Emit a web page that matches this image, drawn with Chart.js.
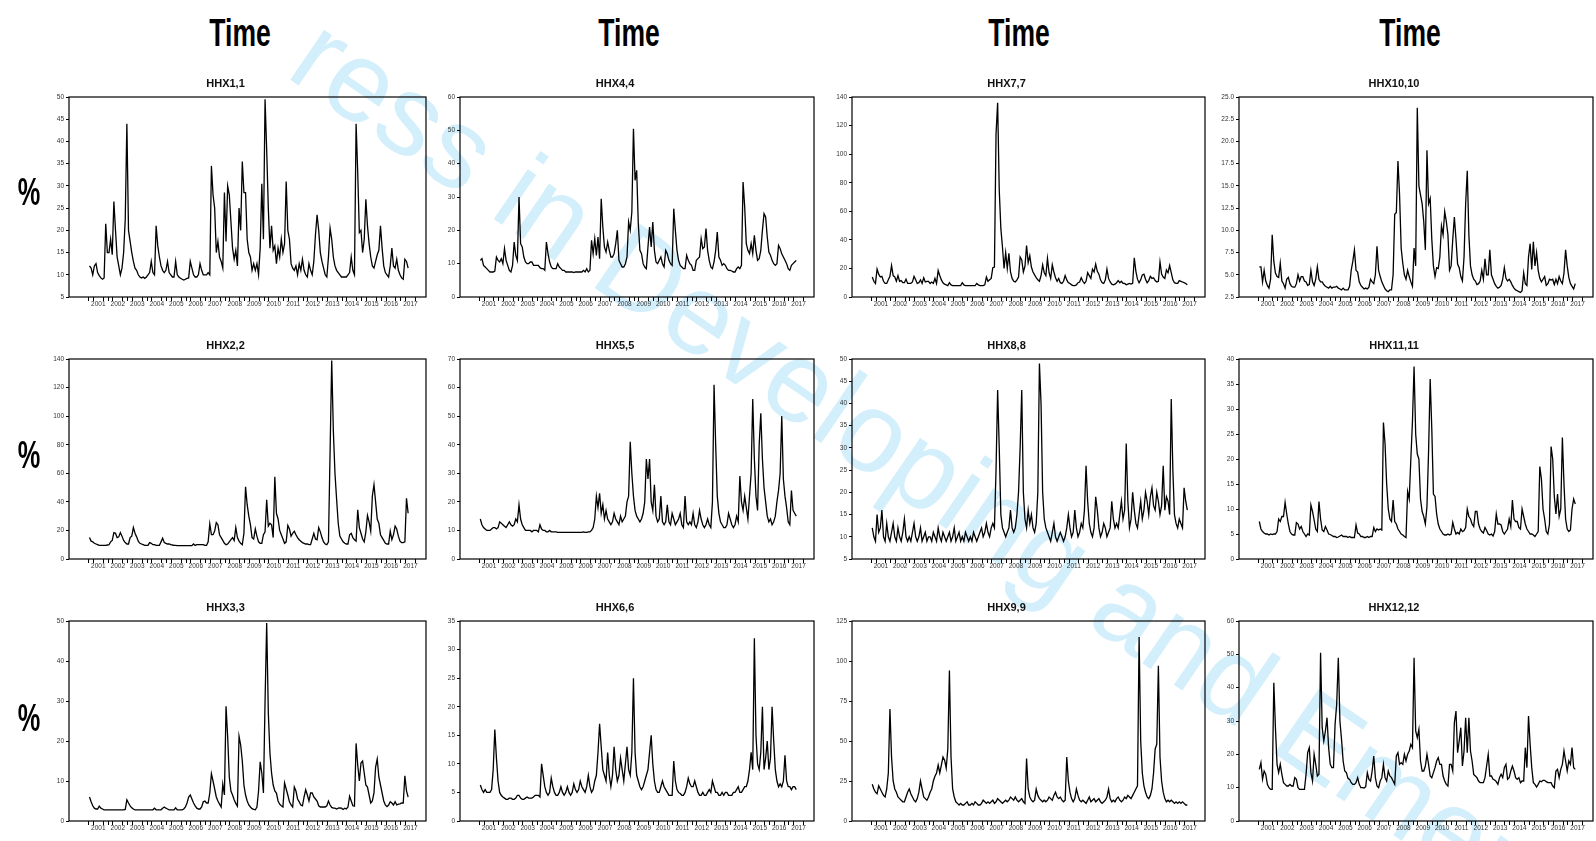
<!DOCTYPE html>
<html>
<head>
<meta charset="utf-8">
<script src="https://cdn.jsdelivr.net/npm/chart.js@4.4.1/dist/chart.umd.min.js"></script>
<style>
  body { margin: 0; background: #fff; }
  #wrap { position: relative; width: 1596px; height: 841px; overflow: hidden; background: #fff; }
  #wrap canvas { position: absolute; z-index: 1; }
  .mark { position: absolute; left: 338px; top: -4px; transform-origin: 0 0; transform: rotate(34.4deg);
          font: 114px 'Liberation Sans', Arial, sans-serif; line-height: 1; color: #d3effc; white-space: nowrap; z-index: 0; }
  .big { position: absolute; font: bold 39px 'Liberation Sans', Arial, sans-serif; line-height: 1; color: #000;
         white-space: nowrap; z-index: 2; }
</style>
</head>
<body>
<div id="wrap">
  <div class="mark">ress in Developing and Emerging</div>
</div>
<script>
/*------------------------------------------------------------------------------------------------*/
//datos: monthly values, Jan 2001 .. May 2017 (one row per year)
const yearLabels = ['2001','2002','2003','2004','2005','2006','2007','2008','2009','2010','2011','2012','2013','2014','2015','2016','2017'];

const hhx1 = [
  12, 11.5, 10, 12, 12.5, 10.5, 9.8, 9.3, 9, 9.3, 21.5, 15,
  15, 18, 14.5, 26.5, 20, 14, 12, 10, 11.5, 15, 22.5, 44,
  20, 17.5, 15, 13, 11.5, 11, 10, 9.5, 9.3, 9.5, 9.2, 9.5,
  10, 10.5, 13, 10.5, 10, 21, 16.5, 14, 12, 11, 10.5, 11,
  13, 10.5, 10, 9.5, 9.5, 13, 10, 9.5, 9.2, 9, 8.8, 9,
  9.2, 9.3, 13, 11.5, 10, 9.5, 9.5, 10, 12.5, 11, 10, 10,
  10, 10.5, 10, 34.5, 28, 25, 15, 17.5, 14, 13, 11.5, 28.5,
  17.5, 30, 28, 22, 16, 13.5, 15.5, 12, 25, 20, 35.5, 28.5,
  28.5, 18, 15, 14, 11, 12.5, 11, 12.5, 10, 16, 30.5, 18,
  49.5, 38, 25, 16, 21, 15.5, 16.5, 12.5, 16, 14, 18, 15,
  17, 31, 20, 18, 12.5, 11.5, 11, 12, 10, 12.5, 11, 13.5,
  11, 10, 9.5, 12.5, 11, 10, 13, 19, 23.5, 20, 15, 13,
  11.5, 10, 9.5, 14, 20.5, 18, 14, 12, 11, 10.5, 10, 9.5,
  9.5, 9.5, 9.5, 10, 10.5, 14, 11, 10, 44, 33, 19.5, 20,
  15, 18, 27, 21, 17, 14, 12, 11.5, 13, 14.5, 15.5, 21,
  16, 12, 10.5, 10, 9.5, 12, 16, 12, 11.5, 13.5, 11, 10,
  9.3, 9, 13.5, 13, 11.5
];
const hhx2 = [
  15, 12.5, 12, 11, 10.5, 10, 9.5, 9.5, 9.5, 9.5, 9.5, 9.8,
  10, 12, 13, 18.5, 18, 15, 15.5, 18.5, 16, 13, 11.5, 10.5,
  10.5, 15, 16, 22, 18, 15.5, 12.5, 11, 10.5, 10, 9.5, 9.5,
  9.5, 11.5, 11, 10, 10, 9.5, 9.5, 9.5, 12, 14.5, 11.5, 11,
  10.5, 10.5, 10, 9.8, 9.5, 9.5, 9.3, 9.3, 9.3, 9.3, 9.3, 9.3,
  9.3, 9.3, 9.3, 9.3, 10.5, 9.5, 10, 10, 10, 10, 10, 9.5,
  9.5, 12, 24.5, 17, 17, 19.5, 25.5, 24, 17, 15, 13, 11,
  10, 10.5, 12, 13.5, 15, 13, 22, 15, 12.5, 11, 10, 18,
  50.5, 38, 30, 24, 15, 14, 21, 16, 12, 11, 11, 17,
  19, 41.5, 23, 25, 24, 15, 57.5, 32, 28, 20, 17, 14,
  11, 12, 23.5, 21, 16, 18, 19.5, 17, 15, 13.5, 12.5, 11.5,
  11, 10.5, 10.5, 10, 10, 14, 18, 14, 13.5, 22, 19, 15,
  12, 10.5, 10, 12, 75, 139, 90, 60, 42, 25, 16, 14,
  12, 11, 10.5, 10.5, 17, 18, 15, 13.5, 12.5, 34.5, 22, 18,
  14, 12, 19, 30.5, 26, 19.5, 44, 52, 40, 28, 25, 17,
  15, 13, 11, 10.5, 10.5, 19.5, 13.5, 17, 23, 21, 16, 12.5,
  11.5, 11.5, 12, 42.5, 32
];
const hhx3 = [
  6, 4.8, 3.8, 3.2, 3, 3, 3.7, 3.2, 3, 2.8, 2.8, 2.8,
  2.8, 2.8, 2.8, 2.8, 2.8, 2.8, 2.8, 2.8, 2.8, 2.8, 2.9, 5.3,
  4.5, 3.8, 3.3, 3, 2.8, 2.8, 2.8, 2.8, 2.8, 2.8, 2.8, 2.8,
  2.8, 2.8, 2.8, 2.8, 3.2, 2.8, 2.8, 2.8, 2.8, 3.2, 3.5, 3.2,
  3, 2.8, 2.8, 2.8, 2.8, 3.3, 2.8, 2.8, 2.8, 2.8, 3, 3.5,
  4.5, 6, 6.5, 5.5, 4.5, 3.8, 3.2, 3, 3, 3.5, 4.8, 5,
  4.5, 4.5, 7, 11.8, 10, 8, 6, 5, 4.2, 3.5, 9.2, 6.5,
  28.7, 21, 11, 7.5, 6.5, 5.3, 4.4, 3.7, 21.2, 19, 15, 9,
  6.5, 5, 4, 3.5, 3.1, 2.9, 2.8, 3.5, 7.5, 14.8, 12, 7,
  30, 49.5, 27, 17, 12, 9, 7.5, 7, 5, 4.2, 3.8, 3.5,
  9.5, 8, 6.5, 4.8, 4, 3.5, 8.5, 7.5, 5.5, 4.8, 4, 3.8,
  6, 7.8, 6.5, 5, 7, 7, 6, 5.5, 5, 3.8, 3.5, 3.5,
  3.5, 3.5, 3.8, 5, 4, 3.4, 3.2, 3.2, 3, 3.2, 3.3, 3.2,
  2.9, 3.2, 3, 3.5, 6.2, 5, 3.8, 3.7, 19.4, 14, 10, 14.5,
  15, 12, 9, 8.5, 6.5, 4.5, 5, 7, 13.5, 15.5, 11, 9,
  7, 5, 4, 3.6, 4, 4.8, 4.5, 4, 4.8, 4, 4.2, 4.3,
  4.5, 4.5, 11.3, 7.5, 6
];
const hhx4 = [
  11, 11.5, 9.5, 9, 8.5, 8, 7.5, 7.5, 7.5, 7.8, 12, 11,
  10.5, 11.5, 10, 14.5, 11, 9.5, 8, 7.5, 9.5, 16.5, 12.5, 11,
  30, 16, 15, 12, 10.5, 10, 10, 10.5, 10.5, 9.5, 9.5, 9.5,
  9.5, 8.8, 8.5, 8.5, 8, 16.5, 13, 10.5, 9, 8.5, 8.5, 8.5,
  10, 9, 8.5, 8, 8, 7.5, 7.5, 7.5, 7.5, 7.5, 7.3, 7.5,
  7.5, 7.5, 7.5, 7.5, 8, 7.5, 8.5, 7.5, 8, 17, 13, 17.5,
  12.5, 18, 11.5, 29.5, 21, 15, 13.5, 16.5, 14, 12, 12, 13,
  16, 20, 11, 10, 9, 9, 10, 12, 22.5, 20, 25.5, 50.5,
  35, 38, 22, 14, 13, 10, 9, 8.5, 15, 21, 15, 22.5,
  14, 10.5, 10, 11, 12, 10, 9, 14, 13, 11, 10, 9.5,
  26.5, 20, 14, 11, 9.5, 9, 8.5, 8.5, 12.5, 11, 10, 9.5,
  8, 8, 11, 11.5, 12, 17.5, 14.5, 15, 20.5, 14, 11, 9,
  8.5, 10.5, 14, 19.5, 12, 11, 9.5, 10, 9.5, 8.5, 8, 8,
  7.8, 7.5, 7.5, 8.5, 9, 8.5, 9.5, 34.5, 27, 16, 14, 13,
  16, 13, 18.5, 14, 11, 11.5, 14, 20, 25, 24, 18, 13.5,
  12.5, 11, 10, 9.5, 10, 15.5, 14.5, 13, 12, 11, 10, 8.5,
  8, 9.5, 10, 10.5, 11
];
const hhx5 = [
  14, 12, 11, 10.5, 10, 10, 10, 10.5, 11, 11, 10.5, 11,
  13, 12.5, 12, 11.5, 11, 12, 13, 12, 11.5, 12, 14, 13,
  19, 14, 12, 11, 10, 10, 10, 10, 9.5, 10, 10, 10,
  9.5, 12, 10.5, 10, 10, 9.5, 9.5, 10, 9.5, 9.5, 9.5, 9.5,
  9.3, 9.3, 9.3, 9.3, 9.3, 9.3, 9.3, 9.3, 9.3, 9.3, 9.3, 9.3,
  9.3, 9.3, 9.3, 9.3, 9.5, 9.3, 9.3, 9.5, 9.5, 10, 11, 14,
  22, 18, 23, 16, 19, 14, 17, 14, 13, 12, 13, 16,
  14, 13, 12, 15, 13, 14, 15, 20, 22, 41, 30, 22,
  17, 15, 14, 13, 14, 16, 20, 35, 28, 35, 20, 17,
  26, 15, 13, 14, 22, 13, 12, 13, 19, 13, 12, 16,
  14, 12, 13, 14, 16, 12, 11, 22, 13, 12, 13, 12,
  16, 12, 11, 13, 17, 14, 12, 11, 12, 14, 12, 11,
  20, 61, 40, 22, 16, 13, 12, 11, 11, 12, 16, 14,
  12, 11, 12, 15, 13, 29, 20, 17, 22, 18, 14, 22,
  30, 56, 35, 22, 17, 40, 51, 35, 25, 20, 15, 13,
  14, 12, 13, 15, 20, 24, 30, 50, 28, 22, 18, 13,
  12, 24, 17, 16, 15
];
const hhx6 = [
  6.3, 5.5, 5, 5.5, 5, 5, 5, 5.5, 9, 16, 11, 7,
  5, 4.5, 4.2, 4, 3.8, 3.8, 4, 4, 3.8, 3.8, 4, 4.5,
  4.5, 4, 3.8, 3.8, 4, 4.2, 4, 4, 4, 4.2, 4.5, 4.5,
  4.5, 4.2, 10, 8, 6, 5, 4.5, 5, 7.5, 6, 5, 4.5,
  4.5, 5, 6, 5, 4.5, 5, 6, 5, 4.5, 5, 6.5, 5.5,
  5, 5.5, 7, 6, 5.5, 5, 6, 8, 6, 5, 5.5, 7,
  8, 12, 17, 13, 9, 8, 7, 12, 8, 6, 8, 13,
  9, 7, 8, 11, 9, 7, 10, 13, 9, 8, 12, 25,
  12, 8, 7, 6, 5.5, 6, 7, 8, 9, 12, 15, 10,
  7, 5.5, 5, 5, 6, 7, 6, 5.5, 5, 4.5, 4.5, 4.5,
  10.5, 7, 5.5, 5, 4.8, 4.5, 4.5, 5, 6, 7.5, 6.5, 6,
  6, 7, 6, 5, 4.5, 4.5, 5, 4.5, 4.5, 5, 5.5, 5,
  7, 6, 5, 5, 4.5, 4.5, 5, 4.5, 5, 5, 4.5, 4.5,
  4.5, 5, 5, 5.5, 6, 5, 5, 5.5, 6, 6, 7, 9,
  12, 9, 32, 15, 10, 9, 12, 20, 9, 11, 14, 9,
  11, 20, 14, 9, 7, 6, 6.5, 6, 7, 11.5, 7, 6,
  6, 5.5, 6, 6, 5.5
];
const hhx7 = [
  14, 11, 9.5, 19.5, 16, 14, 14.5, 11, 9.5, 9.5, 12, 14.5,
  22, 15, 14, 11, 15, 11, 11.5, 10, 10, 12.5, 9.5, 9.5,
  9.5, 10.5, 14.5, 12, 9.5, 10, 12, 9.5, 13.5, 10.5, 11, 11,
  9.5, 10.5, 9.5, 13, 9.5, 18.5, 15, 12, 10, 9, 8.5, 8,
  10, 8.5, 8, 8, 8, 8, 8, 8, 10, 8.5, 8, 8,
  8, 8, 8, 8, 8, 9.5, 8.5, 8, 8, 8, 8.5, 14,
  11, 12, 13, 20.5, 21, 114, 136, 75, 48, 35, 20, 31,
  20, 30.5, 17.5, 13, 11, 10.5, 12, 14, 28, 26, 17.5, 21.5,
  36, 24, 29, 21, 17.5, 15.5, 13.5, 12, 11, 15, 22.5, 17,
  15, 27, 17, 13, 22.5, 17.5, 13.5, 11, 13, 10, 9.5, 11,
  15, 12, 10, 9.5, 8.5, 8, 8, 8.5, 10, 10.5, 13.5, 11,
  9.5, 11, 17, 15, 13, 19.5, 17.5, 23, 18, 16, 12, 10,
  9.5, 12, 19.5, 13, 10.5, 9, 8.5, 9, 10, 11.5, 10, 11,
  9.5, 9.5, 8.5, 9, 9.5, 9, 9.5, 27.5, 18, 12.5, 10, 12,
  15.5, 16, 12.5, 10, 11.5, 14.5, 13, 13.5, 11.5, 10.5, 11, 24.5,
  16, 14, 13, 19, 17, 22, 17, 12, 10, 9.5, 9.5, 11.5,
  11, 10.5, 10, 9.5, 8.5
];
const hhx8 = [
  12, 10, 9, 15, 11, 12, 16, 10, 9, 13, 10, 9,
  11, 13, 10, 9, 12, 10, 9, 11, 14, 10, 9, 10,
  9, 11, 13, 10, 9, 10, 12, 9, 10, 11, 9, 10,
  10, 9, 11, 10, 9, 12, 10, 9, 11, 10, 9, 10,
  11, 9, 10, 12, 9, 10, 11, 9, 10, 9, 11, 10,
  9, 10, 9, 11, 10, 9, 10, 11, 12, 10, 11, 13,
  11, 10, 12, 13, 12, 25, 43, 30, 15, 12, 11, 10,
  11, 12, 16, 12, 11, 12, 15, 20, 30, 43, 20, 14,
  12, 16, 13, 15, 12, 11, 13, 20, 49, 40, 20, 14,
  12, 11, 10, 9, 11, 13, 10, 9, 10, 11, 10, 9,
  10, 12, 15, 12, 10, 11, 16, 12, 10, 11, 13, 12,
  16, 26, 18, 13, 11, 10, 12, 19, 16, 12, 10, 11,
  13, 12, 10, 11, 12, 18, 14, 12, 13, 12, 15, 18,
  14, 16, 31, 18, 12, 14, 20, 16, 13, 12, 15, 18,
  14, 16, 20, 18, 15, 19, 21, 17, 16, 20, 18, 15,
  17, 26, 16, 19, 18, 15, 41, 25, 15, 13, 12, 14,
  13, 12, 21, 18, 16
];
const hhx9 = [
  23, 20, 18, 17, 22, 20, 18, 16, 15, 20, 30, 70,
  40, 25, 20, 18, 15, 14, 13, 12, 12, 15, 18, 20,
  17, 15, 13, 12, 14, 18, 25, 20, 15, 14, 13, 15,
  18, 20, 25, 28, 30, 35, 30, 35, 40, 38, 33, 45,
  94, 40, 20, 15, 12, 11, 10, 11, 10, 10, 11, 12,
  10, 10, 11, 10, 12, 11, 10, 10, 11, 13, 12, 11,
  12, 11, 12, 13, 11, 12, 14, 13, 12, 11, 12, 13,
  12, 13, 15, 14, 13, 15, 13, 12, 13, 14, 12, 11,
  39, 20, 15, 13, 12, 13, 20, 16, 14, 13, 12, 13,
  12, 13, 15, 14, 13, 16, 18, 15, 14, 15, 13, 12,
  13, 40, 25, 18, 14, 12, 14, 20, 16, 13, 12, 13,
  12, 11, 13, 15, 12, 13, 14, 12, 13, 14, 12, 11,
  12, 13, 15, 20, 14, 12, 13, 12, 14, 15, 13, 12,
  13, 15, 14, 16, 15, 14, 16, 18, 20, 22, 115, 50,
  30, 22, 18, 15, 14, 16, 20, 30, 45, 48, 97, 40,
  25, 18, 14, 12, 13, 12, 13, 12, 11, 12, 11, 12,
  11, 12, 11, 10, 10
];
const hhx10 = [
  5.9, 5.9, 4.2, 5.5, 4.3, 3.8, 3.5, 4.5, 9.5, 6.5, 5.2, 4.8,
  4.7, 6.3, 4.3, 4, 3.5, 4.5, 4.7, 4, 3.7, 3.6, 3.6, 4,
  5, 4.3, 4.8, 4.8, 4.3, 4.2, 3.8, 3.9, 5.5, 4.2, 3.8, 4.5,
  5.9, 4.5, 4.2, 4.2, 3.9, 3.7, 3.6, 3.5, 3.7, 3.5, 3.6, 3.6,
  3.7, 3.5, 3.4, 3.3, 3.5, 3.3, 3.3, 3.3, 3.7, 5.5, 6.5, 7.8,
  5.5, 5.3, 4.2, 3.8, 3.6, 3.4, 3.5, 3.4, 3.6, 4.5, 4.2, 4,
  5, 8.2, 5.5, 4.8, 4.2, 3.8, 3.4, 3.2, 3.1, 3.3, 3.3, 5,
  11.8, 12, 17.8, 14, 8, 6.3, 5, 4.5, 5.5, 4.8, 4.2, 3.7,
  8, 6, 23.8, 15, 14, 13, 11, 7.8, 19, 13, 13.6, 9,
  6, 4.8, 5.8, 5.7, 7, 10.5, 9.5, 12.1, 11, 9.5, 5.5, 6,
  9, 11.5, 9, 6.2, 5.8, 4.8, 4.3, 7, 13, 16.7, 9.5, 6,
  5, 4.5, 4.3, 3.9, 4, 4.3, 5.5, 4.5, 6.8, 5, 5, 7.8,
  5, 4.5, 4, 3.7, 3.5, 3.6, 3.8, 4.5, 5.8, 4.6, 4.3, 4.5,
  4.2, 3.8, 3.5, 3.3, 3.2, 3.1, 3, 3.2, 5.2, 4, 3.8, 7,
  8.5, 5.6, 8.7, 6, 7.5, 5.5, 4.6, 4.2, 4.5, 4.8, 3.8, 4,
  4.5, 4.4, 4.5, 3.9, 4.5, 4, 4.8, 4.3, 4, 5.2, 7.8, 6,
  4.7, 4, 3.7, 3.4, 4
];
const hhx11 = [
  7.5, 6, 5.5, 5.2, 5, 5, 4.8, 5, 4.9, 5, 5, 5.5,
  8, 7.5, 8.5, 8.5, 11.3, 9, 7, 5.5, 5, 4.8, 4.8, 7.3,
  7, 6, 6.5, 5.5, 5, 4.5, 5, 4.8, 10.8, 9.5, 7.8, 6,
  5.5, 11.5, 8, 5.8, 5.5, 6.5, 5.8, 5, 4.9, 4.7, 4.5, 4.5,
  4.3, 4.4, 4.6, 4.8, 4.5, 4.5, 4.5, 4.3, 4.5, 4.3, 4.3, 4.3,
  6.8, 5.2, 5, 4.5, 4.5, 4.3, 4.3, 4.5, 4.3, 4.5, 4.5, 6.3,
  5.5, 6, 5.8, 6, 5.8, 27.3, 23, 15, 10, 8, 7.5, 11.8,
  7.5, 7, 6, 5.5, 5, 4.8, 4.5, 4.3, 13.5, 12, 20, 27.5,
  38.5, 25, 21, 20, 12, 9.5, 8.5, 7, 10.5, 21.5, 36, 26,
  13, 12.5, 9, 7, 6, 5.5, 5, 4.8, 4.8, 5, 4.8, 5,
  7.3, 6, 5, 5.3, 5, 6, 5.5, 5.7, 6.3, 10, 8.5, 8,
  7, 6.5, 9.5, 9.5, 7, 6, 5.5, 5.2, 6.3, 5.7, 5, 4.8,
  5, 4.6, 5.5, 9, 7, 7, 6.8, 5.5, 5, 5.5, 6, 8,
  6.5, 11.8, 8, 7.5, 7.5, 6.3, 6, 10, 8.5, 7, 6, 5.5,
  5, 5, 4.8, 4.5, 5, 5.5, 18.5, 16, 10, 8, 5.5, 5,
  7, 22.5, 20, 12.5, 9, 13, 8.5, 10, 24.3, 15, 8, 6,
  5.5, 5.8, 10, 12, 11
];
const hhx12 = [
  15.5, 17.5, 12.5, 15, 14, 11, 10, 9.5, 9.5, 41.5, 28, 17,
  14.5, 17, 14, 11.5, 11, 10.5, 10.5, 11, 10.5, 10.5, 13, 12.5,
  10, 9.5, 9.5, 9.5, 9.5, 14, 20.5, 22, 14.5, 12, 20, 17,
  13.5, 14, 50.5, 28, 24, 27, 31, 22, 17, 16, 16, 29,
  35, 49, 30, 24.5, 18, 15, 14.5, 12.8, 12.5, 11.5, 11, 11,
  11.5, 13, 11, 10, 10, 9.9, 10.3, 14.5, 12.5, 12, 15, 19.5,
  13, 10.5, 10, 12, 13, 17, 13, 12, 15, 13.5, 13, 12,
  11, 19.5, 20.5, 17, 17.5, 17, 20, 18, 20, 21, 23, 22,
  49, 27, 25, 27.5, 18, 15, 15, 16.5, 20, 17, 13.5, 13,
  14.5, 16, 18, 19, 17, 17, 13.5, 12, 11, 10.5, 17, 17,
  15, 29.5, 33, 20.5, 24, 28, 16.5, 21, 31, 20.5, 31, 21,
  18, 14, 13.5, 13, 12, 11.5, 11.5, 11.5, 13, 16.5, 20, 13.5,
  13.5, 12.5, 12.3, 11.8, 11, 13, 14, 13, 16, 17, 12.5, 13,
  15, 16.5, 15, 13, 12.5, 13, 11.5, 12, 12, 22, 16, 31.5,
  23, 16, 11.5, 11, 10.2, 11, 12, 11.8, 12.2, 12.2, 11.8, 11.5,
  11.5, 11.5, 10.5, 10, 15, 15.5, 13, 15.5, 17, 21, 18, 15,
  18, 17, 22, 16, 15.5
];

/*------------------------------------------------------------------------------------------------*/
//paneles (orden de la grilla, fila por fila)
const panels = [
  { title: 'HHX1,1',   data: hhx1,  min: 5,   max: 50,  step: 5 },
  { title: 'HHX4,4',   data: hhx4,  min: 0,   max: 60,  step: 10 },
  { title: 'HHX7,7',   data: hhx7,  min: 0,   max: 140, step: 20 },
  { title: 'HHX10,10', data: hhx10, min: 2.5, max: 25,  step: 2.5, dec: 1 },
  { title: 'HHX2,2',   data: hhx2,  min: 0,   max: 140, step: 20 },
  { title: 'HHX5,5',   data: hhx5,  min: 0,   max: 70,  step: 10 },
  { title: 'HHX8,8',   data: hhx8,  min: 5,   max: 50,  step: 5 },
  { title: 'HHX11,11', data: hhx11, min: 0,   max: 40,  step: 5 },
  { title: 'HHX3,3',   data: hhx3,  min: 0,   max: 50,  step: 10 },
  { title: 'HHX6,6',   data: hhx6,  min: 0,   max: 35,  step: 5 },
  { title: 'HHX9,9',   data: hhx9,  min: 0,   max: 125, step: 25 },
  { title: 'HHX12,12', data: hhx12, min: 0,   max: 60,  step: 10 }
];

// fechas mensuales (eje x en años decimales)
const firstYear = +yearLabels[0];
const dates = hhx1.map((_, i) => firstYear + 0.05 + i / 12);

// marcas del eje x: inicio de año + trimestres, etiqueta a mitad de año
const xTicks = [];
yearLabels.forEach(y => { const b = +y; xTicks.push(b, b + 0.25, b + 0.5, b + 0.75); });

/*------------------------------------------------------------------------------------------------*/
//layout
const plotLeft = [69, 460, 852, 1239];
const plotRight = [426, 814, 1205, 1593];
const plotTop = [97, 359, 621];
const plotH = 200;
const yW = 44, titleH = 28, xH = 16, padR = 2;
const timeX = [240, 629, 1019, 1410];
const pctY = [191, 454, 717];

Chart.defaults.font.family = "'Liberation Sans Narrow', 'Liberation Sans', Arial, sans-serif";
Chart.defaults.color = '#333';

const frame = {
  id: 'frame',
  beforeDatasetsDraw(chart) {
    const { ctx, chartArea: a } = chart;
    ctx.save();
    ctx.strokeStyle = '#000';
    ctx.lineWidth = 1.2;
    ctx.strokeRect(a.left, a.top, a.right - a.left, a.bottom - a.top);
    ctx.restore();
  }
};

const wrap = document.getElementById('wrap');

timeX.forEach(x => {
  const d = document.createElement('div');
  d.className = 'big';
  d.textContent = 'Time';
  d.style.left = x + 'px';
  d.style.top = '13px';
  d.style.transform = 'translateX(-50%) scaleX(0.68)';
  wrap.appendChild(d);
});
pctY.forEach(y => {
  const d = document.createElement('div');
  d.className = 'big';
  d.textContent = '%';
  d.style.left = '29px';
  d.style.top = (y - 19) + 'px';
  d.style.transform = 'translateX(-50%) scaleX(0.65)';
  wrap.appendChild(d);
});

panels.forEach((p, i) => {
  const r = Math.floor(i / 4), c = i % 4;
  const w = plotRight[c] - plotLeft[c];
  const cv = document.createElement('canvas');
  cv.width = yW + w + padR;
  cv.height = titleH + plotH + xH;
  cv.style.left = (plotLeft[c] - yW) + 'px';
  cv.style.top = (plotTop[r] - titleH) + 'px';
  wrap.appendChild(cv);

  new Chart(cv, {
    type: 'line',
    data: {
      datasets: [{
        data: p.data.map((v, k) => ({ x: dates[k], y: v })),
        borderColor: '#000',
        borderWidth: 1.3,
        pointRadius: 0,
        tension: 0
      }]
    },
    options: {
      responsive: false,
      animation: false,
      devicePixelRatio: 1,
      layout: { padding: { left: 0, right: padR, top: 0, bottom: 0 } },
      plugins: {
        legend: { display: false },
        tooltip: { enabled: false },
        title: {
          display: true,
          text: p.title,
          color: '#111',
          font: { size: 11, weight: 'bold', lineHeight: 1 },
          padding: { top: 9, bottom: 8 }
        }
      },
      scales: {
        x: {
          type: 'linear',
          min: 2000,
          max: 2018.3,
          afterBuildTicks: s => { s.ticks = xTicks.map(v => ({ value: v })); },
          afterFit: s => { s.height = xH; },
          border: { display: false },
          grid: {
            drawOnChartArea: false,
            tickLength: 4,
            tickColor: ctx => (ctx.tick && Math.abs(ctx.tick.value % 1 - 0.5) < 1e-6) ? 'rgba(0,0,0,0)' : '#000'
          },
          ticks: {
            autoSkip: false,
            maxRotation: 0,
            padding: -1,
            font: { size: 6.5 },
            callback: v => Math.abs(v % 1 - 0.5) < 1e-6 ? String(Math.floor(v)) : ''
          }
        },
        y: {
          min: p.min,
          max: p.max,
          afterFit: s => { s.width = yW; },
          border: { display: false },
          grid: { drawOnChartArea: false, tickLength: 3, tickColor: '#000' },
          ticks: {
            stepSize: p.step,
            padding: 2,
            font: { size: 6.5 },
            callback: v => v.toFixed(p.dec || 0)
          }
        }
      }
    },
    plugins: [frame]
  });
});
</script>
</body>
</html>
